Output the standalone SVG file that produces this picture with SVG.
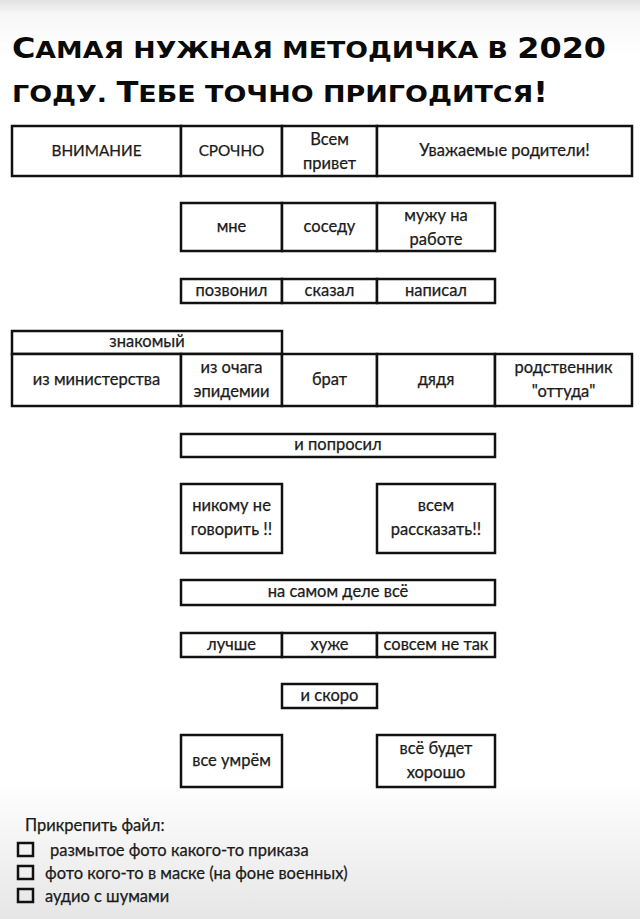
<svg xmlns="http://www.w3.org/2000/svg" width="640" height="919" viewBox="0 0 640 919">
<defs>
<linearGradient id="bg" x1="0" y1="0" x2="0" y2="1">
<stop offset="0" stop-color="#e2e2e2"/>
<stop offset="0.015" stop-color="#f7f7f7"/>
<stop offset="0.06" stop-color="#ffffff"/>
<stop offset="0.85" stop-color="#ffffff"/>
<stop offset="1" stop-color="#e6e6e6"/>
</linearGradient>
</defs>
<style>
.c{fill:#fff;stroke:#111;stroke-width:2.5}
.t{font-family:Lato,"Open Sans","Noto Sans",sans-serif;font-size:16.5px;fill:#1a1a1a;stroke:#1a1a1a;stroke-width:0.25;text-anchor:middle}
.k{font-size:15.3px}
.l{font-family:Lato,"Open Sans","Noto Sans",sans-serif;font-size:16.5px;fill:#1a1a1a;stroke:#1a1a1a;stroke-width:0.25}
.h{font-family:"DejaVu Sans Condensed","DejaVu Sans",sans-serif;font-weight:bold;font-stretch:condensed;fill:#0a0a0a;text-transform:uppercase}
.cb{fill:none;stroke:#111;stroke-width:2.5}
</style>
<rect width="640" height="919" fill="url(#bg)"/>
<g id="title">
<text class="h" x="12" y="58" textLength="594" lengthAdjust="spacingAndGlyphs"><tspan font-size="28">С</tspan><tspan font-size="23.5">амая нужная методичка в </tspan><tspan font-size="28">2020</tspan></text>
<text class="h" x="12" y="102" textLength="536" lengthAdjust="spacingAndGlyphs"><tspan font-size="23.5">году. </tspan><tspan font-size="28">Т</tspan><tspan font-size="23.5">ебе точно пригодится</tspan><tspan font-size="28">!</tspan></text>
</g>
<g id="connectors"></g>
<g id="vnimanie"><rect class="c" x="12" y="126" width="169" height="50"/><text class="t k" x="96.5" y="156">ВНИМАНИЕ</text></g>
<g id="srochno"><rect class="c" x="181" y="126" width="101" height="50"/><text class="t k" x="231.5" y="156">СРОЧНО</text></g>
<g id="vsem-privet"><rect class="c" x="282" y="126" width="95" height="50"/><text class="t" x="329.5" y="145">Всем</text><text class="t" x="329.5" y="169">привет</text></g>
<g id="roditeli"><rect class="c" x="377" y="126" width="255" height="50"/><text class="t" x="504.5" y="156">Уважаемые родители!</text></g>

<g id="mne"><rect class="c" x="181" y="203" width="101" height="48"/><text class="t" x="231.5" y="232">мне</text></g>
<g id="sosedu"><rect class="c" x="282" y="203" width="95" height="48"/><text class="t" x="329.5" y="232">соседу</text></g>
<g id="muzhu"><rect class="c" x="377" y="203" width="118" height="48"/><text class="t" x="436" y="221">мужу на</text><text class="t" x="436" y="245">работе</text></g>

<g id="pozvonil"><rect class="c" x="181" y="279" width="101" height="24"/><text class="t" x="231.5" y="296">позвонил</text></g>
<g id="skazal"><rect class="c" x="282" y="279" width="95" height="24"/><text class="t" x="329.5" y="296">сказал</text></g>
<g id="napisal"><rect class="c" x="377" y="279" width="118" height="24"/><text class="t" x="436" y="296">написал</text></g>

<g id="znakomy"><rect class="c" x="12" y="331" width="270" height="23"/><text class="t" x="147" y="347">знакомый</text></g>
<g id="ministerstvo"><rect class="c" x="12" y="354" width="169" height="52"/><text class="t" x="96.5" y="385">из министерства</text></g>
<g id="ochag"><rect class="c" x="181" y="354" width="101" height="52"/><text class="t" x="231.5" y="373">из очага</text><text class="t" x="231.5" y="397">эпидемии</text></g>
<g id="brat"><rect class="c" x="282" y="354" width="95" height="52"/><text class="t" x="329.5" y="385">брат</text></g>
<g id="dyadya"><rect class="c" x="377" y="354" width="118" height="52"/><text class="t" x="436" y="385">дядя</text></g>
<g id="rodstvennik"><rect class="c" x="495" y="354" width="137" height="52"/><text class="t" x="563.5" y="373">родственник</text><text class="t" x="563.5" y="397">"оттуда"</text></g>

<g id="poprosil"><rect class="c" x="181" y="434" width="314" height="23"/><text class="t" x="338" y="450">и попросил</text></g>

<g id="nikomu"><rect class="c" x="181" y="484" width="101" height="69"/><text class="t" x="231.5" y="511">никому не</text><text class="t" x="231.5" y="535">говорить !!</text></g>
<g id="vsem-rasskazat"><rect class="c" x="377" y="484" width="118" height="69"/><text class="t" x="436" y="511">всем</text><text class="t" x="436" y="535">рассказать!!</text></g>

<g id="na-samom-dele"><rect class="c" x="181" y="580" width="314" height="25"/><text class="t" x="338" y="597">на самом деле всё</text></g>

<g id="luchshe"><rect class="c" x="181" y="633" width="101" height="24"/><text class="t" x="231.5" y="650">лучше</text></g>
<g id="huzhe"><rect class="c" x="282" y="633" width="95" height="24"/><text class="t" x="329.5" y="650">хуже</text></g>
<g id="ne-tak"><rect class="c" x="377" y="633" width="118" height="24"/><text class="t" x="436" y="650">совсем не так</text></g>

<g id="i-skoro"><rect class="c" x="282" y="684" width="95" height="24"/><text class="t" x="329.5" y="701">и скоро</text></g>

<g id="umryom"><rect class="c" x="181" y="735" width="101" height="52"/><text class="t" x="231.5" y="766">все умрём</text></g>
<g id="horosho"><rect class="c" x="377" y="735" width="118" height="52"/><text class="t" x="436" y="754">всё будет</text><text class="t" x="436" y="778">хорошо</text></g>

<g id="attach">
<text class="l" x="25" y="831">Прикрепить файл:</text>
<rect class="cb" x="18" y="843" width="15" height="13"/>
<text class="l" x="50" y="856">размытое фото какого-то приказа</text>
<rect class="cb" x="18" y="866" width="15" height="13"/>
<text class="l" x="45" y="879">фото кого-то в маске (на фоне военных)</text>
<rect class="cb" x="18" y="889" width="15" height="13"/>
<text class="l" x="45" y="902">аудио с шумами</text>
</g>
</svg>
